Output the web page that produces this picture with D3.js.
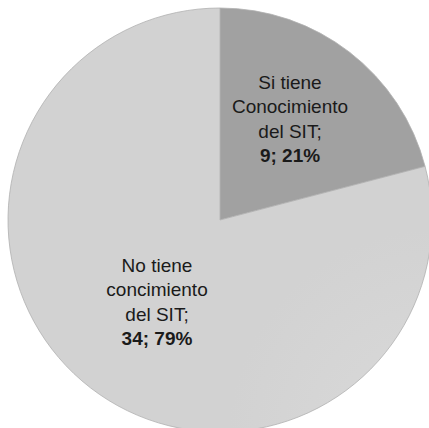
<!DOCTYPE html>
<html>
<head>
<meta charset="utf-8">
<script src="https://cdn.jsdelivr.net/npm/d3@7"></script>
<style>
  body { margin: 0; background: #fff; }
  svg { display: block; }
</style>
</head>
<body>
<div id="chart"></div>
<script>
// data
var categories = ["Si tiene Conocimiento del SIT", "No tiene concimiento del SIT"];
var values = [9, 34];
var percents = ["21%", "79%"];
var labelLines = [
  ["Si tiene", "Conocimiento", "del SIT;"],
  ["No tiene", "concimiento", "del SIT;"]
];
var colors = ["#a4a4a4", "#d6d6d6"];

var width = 429, height = 428,
    cx = 220, cy = 220,
    radius = 212;

var svg = d3.select("#chart").append("svg")
    .attr("width", width)
    .attr("height", height);

var defs = svg.append("defs");
colors.forEach(function(c, i) {
  var grad = defs.append("radialGradient")
      .attr("id", "grad" + i)
      .attr("gradientUnits", "userSpaceOnUse")
      .attr("cx", cx).attr("cy", cy).attr("r", radius);
  grad.append("stop").attr("offset", "0%").attr("stop-color", d3.color(c).brighter(0.05));
  grad.append("stop").attr("offset", "100%").attr("stop-color", d3.color(c).darker(0.05));
});

var pie = d3.pie().sort(null).value(function(d) { return d; });
var arcs = pie(values);

var arc = d3.arc().innerRadius(0).outerRadius(radius);

var g = svg.append("g")
    .attr("transform", "translate(" + cx + "," + cy + ")");

g.selectAll("path")
    .data(arcs)
  .enter().append("path")
    .attr("d", arc)
    .attr("fill", function(d, i) { return "url(#grad" + i + ")"; })
    .attr("stroke", "#b0b0b0")
    .attr("stroke-width", 0.8);

// label positions (relative to center)
var labelPos = [[70, -131], [-63, 52]];
var lineH = 24.4;

var labels = g.selectAll("text.lbl")
    .data(arcs)
  .enter().append("text")
    .attr("class", "lbl")
    .attr("text-anchor", "middle")
    .style("font-family", "'Liberation Sans', Arial, sans-serif")
    .style("font-size", "19px")
    .style("fill", "#1a1a1a");

labels.each(function(d, i) {
  var t = d3.select(this);
  var p = labelPos[i];
  labelLines[i].forEach(function(line, k) {
    t.append("tspan")
      .attr("x", p[0])
      .attr("y", p[1] + k * lineH)
      .text(line);
  });
  t.append("tspan")
    .attr("x", p[0])
    .attr("y", p[1] + 3 * lineH)
    .style("font-weight", "bold")
    .text(values[i] + "; " + percents[i]);
});
</script>
</body>
</html>
